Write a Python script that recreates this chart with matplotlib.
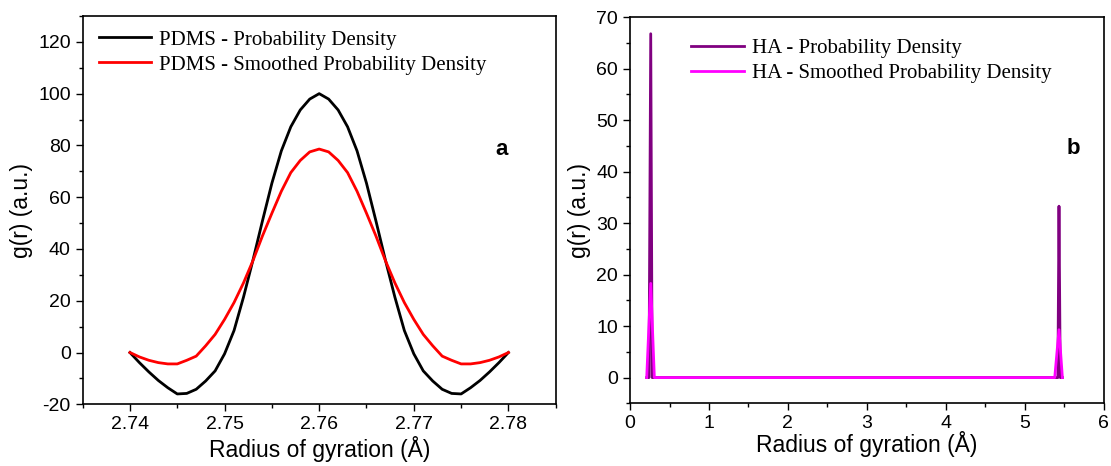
import numpy as np
import matplotlib
matplotlib.use("Agg")
import matplotlib.pyplot as plt
from matplotlib.ticker import MultipleLocator

plt.rcParams["axes.unicode_minus"] = False

# PDMS panel (a): radius of gyration grid and densities
pdms_r = [2.740, 2.741, 2.742, 2.743, 2.744, 2.745, 2.746, 2.747, 2.748, 2.749,
          2.750, 2.751, 2.752, 2.753, 2.754, 2.755, 2.756, 2.757, 2.758, 2.759,
          2.760, 2.761, 2.762, 2.763, 2.764, 2.765, 2.766, 2.767, 2.768, 2.769,
          2.770, 2.771, 2.772, 2.773, 2.774, 2.775, 2.776, 2.777, 2.778, 2.779,
          2.780]
pdms_density = [0.0, -3.9, -7.5, -10.8, -13.6, -16.0, -15.8, -14.2, -11.0, -7.1,
                -0.5, 8.5, 21.4, 35.7, 50.8, 65.4, 77.9, 87.2, 93.7, 97.9,
                100.0, 97.9, 93.7, 87.2, 77.9, 65.4, 50.8, 35.7, 21.4, 8.5,
                -0.5, -7.1, -11.0, -14.2, -15.8, -16.0, -13.6, -10.8, -7.5, -3.9,
                0.0]
pdms_smoothed = [0.0, -1.7, -3.0, -3.9, -4.4, -4.4, -3.0, -1.4, 2.6, 7.0,
                 12.8, 19.3, 26.9, 35.5, 45.0, 53.8, 62.3, 69.5, 74.2, 77.5,
                 78.6, 77.5, 74.2, 69.5, 62.3, 53.8, 45.0, 35.5, 26.9, 19.3,
                 12.8, 7.0, 2.6, -1.4, -3.0, -4.4, -4.4, -3.9, -3.0, -1.7,
                 0.0]
pdms_xticks = [2.74, 2.75, 2.76, 2.77, 2.78]
pdms_xticklabels = ["2.74", "2.75", "2.76", "2.77", "2.78"]
pdms_yticks = [-20, 0, 20, 40, 60, 80, 100, 120]

# HA panel (b)
ha_r = [0.211, 0.240, 0.262, 0.280, 0.308, 5.380, 5.420, 5.434, 5.450, 5.477]
ha_density = [0.0, 0.0, 66.8, 0.0, 0.0, 0.0, 0.0, 33.3, 0.0, 0.0]
ha_smooth_r = [0.211, 0.262, 0.308, 5.380, 5.434, 5.477]
ha_smoothed = [0.0, 18.3, 0.0, 0.0, 9.3, 0.0]
ha_xticks = [0, 1, 2, 3, 4, 5, 6]
ha_yticks = [0, 10, 20, 30, 40, 50, 60, 70]

SANS = "Liberation Sans"
SERIF = "Liberation Serif"


def style_axes(ax):
    ax.tick_params(which="both", direction="out", top=False, right=False,
                   width=1.0, labelsize=14)
    ax.tick_params(which="major", length=5)
    ax.tick_params(which="minor", length=3)
    for lab in ax.get_xticklabels() + ax.get_yticklabels():
        lab.set_fontfamily(SANS)
    for sp in ax.spines.values():
        sp.set_linewidth(1.2)


fig = plt.figure(figsize=(11.11, 4.66), dpi=100)

# panel a
ax1 = fig.add_axes([0.0744, 0.1324, 0.4258, 0.8333])
ax1.plot(pdms_r, pdms_density, color="black", lw=2,
         label="PDMS - Probability Density")
ax1.plot(pdms_r, pdms_smoothed, color="#ff0000", lw=2,
         label="PDMS - Smoothed Probability Density")
ax1.set_xlim(2.735, 2.785)
ax1.set_ylim(-20, 130)
ax1.set_xticks(pdms_xticks)
ax1.set_xticklabels(pdms_xticklabels)
ax1.xaxis.set_minor_locator(MultipleLocator(0.005))
ax1.set_yticks(pdms_yticks)
ax1.yaxis.set_minor_locator(MultipleLocator(10))
style_axes(ax1)
ax1.set_xlabel("Radius of gyration (Å)", fontsize=16.5, family=SANS, labelpad=2)
ax1.set_ylabel("g(r) (a.u.)", fontsize=16.5, family=SANS, labelpad=4)
ax1.legend(loc="upper left", bbox_to_anchor=(0.017, 0.985), frameon=False,
           prop={"family": SERIF, "size": 15}, handlelength=2.5,
           handletextpad=0.4, labelspacing=0.25, borderaxespad=0)
ax1.text(0.885, 0.655, "a", transform=ax1.transAxes, fontsize=16,
         fontweight="bold", family=SANS, ha="center", va="center")

# panel b
ax2 = fig.add_axes([0.5671, 0.1345, 0.4263, 0.8284])
ax2.plot(ha_r, ha_density, color="#800080", lw=2,
         label="HA - Probability Density")
ax2.plot(ha_smooth_r, ha_smoothed, color="#ff00ff", lw=2,
         label="HA - Smoothed Probability Density")
ax2.set_xlim(0, 6)
ax2.set_ylim(-5, 70)
ax2.set_xticks(ha_xticks)
ax2.xaxis.set_minor_locator(MultipleLocator(0.5))
ax2.set_yticks(ha_yticks)
ax2.yaxis.set_minor_locator(MultipleLocator(5))
style_axes(ax2)
ax2.set_xlabel("Radius of gyration (Å)", fontsize=16.5, family=SANS, labelpad=-1)
ax2.set_ylabel("g(r) (a.u.)", fontsize=16.5, family=SANS, labelpad=4)
ax2.legend(loc="upper left", bbox_to_anchor=(0.112, 0.966), frameon=False,
           prop={"family": SERIF, "size": 15}, handlelength=2.5,
           handletextpad=0.4, labelspacing=0.25, borderaxespad=0)
ax2.text(0.935, 0.66, "b", transform=ax2.transAxes, fontsize=16,
         fontweight="bold", family=SANS, ha="center", va="center")

fig.savefig("out.png", dpi=100)
